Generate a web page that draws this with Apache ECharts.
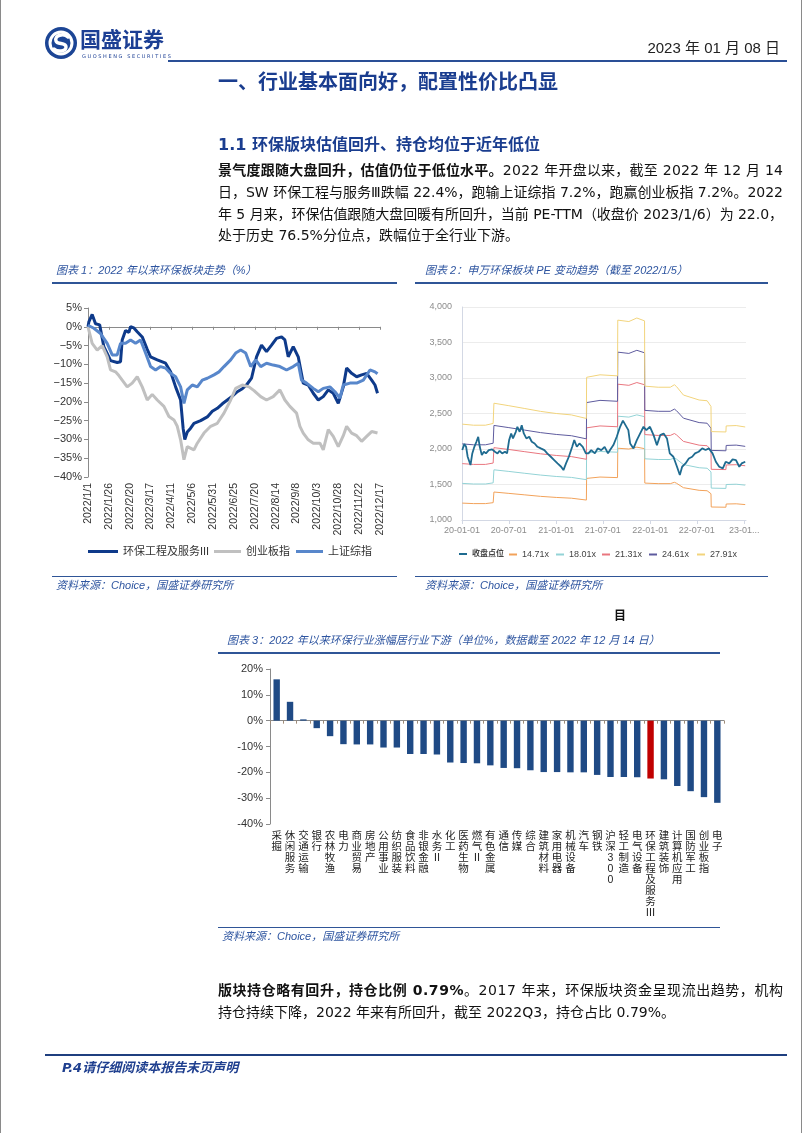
<!DOCTYPE html>
<html><head><meta charset="utf-8">
<script src="https://cdn.jsdelivr.net/npm/echarts@6/dist/echarts.min.js"></script>
<style>
html,body{margin:0;padding:0;background:#fff;}
body{width:802px;height:1133px;position:relative;overflow:hidden;font-family:"DejaVu Sans","Noto Sans CJK SC",sans-serif;color:#111;}
#chart{position:absolute;left:0;top:0;width:802px;height:1133px;}
.t{position:absolute;white-space:nowrap;}
.hl{position:absolute;}
.ct{font-family:"Liberation Sans","Noto Sans CJK SC",sans-serif;font-style:italic;font-size:11px;line-height:14px;color:#2e55a0;}
.p{font-size:14px;line-height:20px;color:#111;}
.b{font-weight:bold;}
</style></head>
<body>
<div id="chart"></div>
<div style="position:absolute;left:0;top:0;width:1px;height:1133px;background:#8a8a8a"></div>
<div style="position:absolute;left:801px;top:0;width:1px;height:1133px;background:#8a8a8a"></div>

<svg style="position:absolute;left:44px;top:26px" width="34" height="34" viewBox="0 0 34 34">
<circle cx="17" cy="17" r="16" fill="#1c4595"/>
<circle cx="17" cy="17" r="11" fill="none" stroke="#fff" stroke-width="3"/>
<path d="M24 11 C20 7 10 9 12 15 C13 19 22 16 22 21 C22 26 13 26 10 23" fill="none" stroke="#fff" stroke-width="3.4" stroke-linecap="round"/>
</svg>
<div class="t" style="left:80px;top:28px;font-size:21px;line-height:24px;font-weight:bold;color:#1c3f94;">国盛证券</div>
<div class="t" style="left:82px;top:53px;font-size:5px;line-height:6px;letter-spacing:1.6px;color:#1c3f94;">GUOSHENG SECURITIES</div>
<div class="t" style="right:22px;top:39px;font-size:15px;line-height:18px;color:#222;font-family:'Liberation Sans','Noto Sans CJK SC',sans-serif;">2023 年 01 月 08 日</div>
<div class="hl" style="left:168px;top:60px;width:619px;height:2px;background:#2a4f96"></div>

<div class="t" style="left:218px;top:70px;font-size:20px;line-height:24px;font-weight:bold;color:#1a3d8f;">一、行业基本面向好，配置性价比凸显</div>
<div class="t" style="left:218px;top:135px;font-size:16px;line-height:20px;font-weight:bold;color:#1a3d8f;">1.1 环保版块估值回升、持仓均位于近年低位</div>

<div class="t p jl" data-w="565" style="left:218px;top:160px;"><span class="b">景气度跟随大盘回升，估值仍位于低位水平。</span>2022 年开盘以来，截至 2022 年 12 月 14</div>
<div class="t p jl" data-w="565" style="left:218px;top:182px;">日，SW 环保工程与服务Ⅲ跌幅 22.4%，跑输上证综指 7.2%，跑赢创业板指 7.2%。2022</div>
<div class="t p jl" data-w="565" style="left:218px;top:204px;">年 5 月来，环保估值跟随大盘回暖有所回升，当前 PE-TTM（收盘价 2023/1/6）为 22.0，</div>
<div class="t p" style="left:218px;top:225px;">处于历史 76.5%分位点，跌幅位于全行业下游。</div>

<div class="t ct" style="left:56px;top:263px;">图表 1：2022 年以来环保板块走势（%）</div>
<div class="hl" style="left:52px;top:282px;width:345px;height:2px;background:#2f5597"></div>
<div class="t ct" style="left:425px;top:263px;">图表 2：申万环保板块 PE 变动趋势（截至 2022/1/5）</div>
<div class="hl" style="left:415px;top:282px;width:353px;height:2px;background:#2f5597"></div>

<div class="hl" style="left:52px;top:576px;width:345px;height:1px;background:#2f5597"></div>
<div class="t ct" style="left:56px;top:578px;">资料来源：Choice，国盛证券研究所</div>
<div class="hl" style="left:415px;top:576px;width:353px;height:1px;background:#2f5597"></div>
<div class="t ct" style="left:425px;top:578px;">资料来源：Choice，国盛证券研究所</div>

<div class="t" style="left:614px;top:609px;font-size:12px;line-height:15px;font-weight:bold;color:#111;">目</div>

<div class="t ct" style="left:227px;top:633px;">图表 3：2022 年以来环保行业涨幅居行业下游（单位%，数据截至 2022 年 12 月 14 日）</div>
<div class="hl" style="left:218px;top:652px;width:502px;height:2px;background:#2f5597"></div>
<div class="hl" style="left:218px;top:927px;width:502px;height:1px;background:#2f5597"></div>
<div class="t ct" style="left:222px;top:929px;">资料来源：Choice，国盛证券研究所</div>

<div class="t p jl" data-w="565" style="left:218px;top:980px;"><span class="b">版块持仓略有回升，持仓比例 0.79%</span>。2017 年来，环保版块资金呈现流出趋势，机构</div>
<div class="t p" style="left:218px;top:1002px;">持仓持续下降，2022 年来有所回升，截至 2022Q3，持仓占比 0.79%。</div>

<div class="hl" style="left:45px;top:1054px;width:742px;height:2px;background:#1f3f7f"></div>
<div class="t" style="left:62px;top:1060px;font-size:13px;line-height:16px;font-weight:bold;font-style:italic;color:#1f3f8f;">P.4请仔细阅读本报告末页声明</div>

<script>
// ---------- Chart 1 data: 2022 cumulative change (%) by day of year ----------
const c1TickLabels = ['2022/1/1','2022/1/26','2022/2/20','2022/3/17','2022/4/11','2022/5/6','2022/5/31','2022/6/25','2022/7/20','2022/8/14','2022/9/8','2022/10/3','2022/10/28','2022/11/22','2022/12/17'];
const c1Names = ['环保工程及服务III','创业板指','上证综指'];
const envSeries = [[0,0],[1,1.3],[5,3.3],[9,0.8],[14,0.5],[19,-5.3],[25,-8],[27,-9],[35,-9.5],[39,-9.3],[41,-3.5],[45,-1],[49,-1.5],[51,0],[55,-0.3],[59,-1.3],[65,-2.7],[71,-6],[75,-8],[83,-8.8],[93,-9.7],[99,-12],[105,-16],[111,-19.5],[114,-27],[116,-30],[119,-28],[123,-27],[127,-25.7],[135,-25],[143,-24],[149,-22.5],[155,-21.7],[161,-20.5],[167,-19.5],[173,-18.5],[179,-17.3],[185,-16.5],[190,-15.5],[196,-13.7],[202,-8],[208,-4.9],[214,-6.6],[220,-4.9],[226,-3.1],[232,-2.7],[236,-3.5],[240,-8],[246,-5.3],[252,-8],[258,-15],[264,-15.5],[270,-17.7],[276,-19.5],[282,-18.6],[288,-16.8],[294,-17.7],[300,-20.4],[306,-16],[310,-11],[316,-12.4],[322,-13.3],[328,-12.8],[334,-12.4],[340,-14.2],[344,-15.5],[347,-17.7]];
const gemSeries = [[0,0],[5,-4.4],[11,-6.2],[17,-5],[23,-8],[27,-11.5],[33,-12],[37,-13],[41,-14.2],[47,-16],[53,-15],[59,-13.3],[65,-16],[71,-19.5],[77,-18],[83,-19.5],[91,-21.2],[97,-23.9],[103,-24.8],[107,-26.5],[111,-30.1],[115,-35.4],[119,-31.9],[127,-32.8],[131,-31],[139,-28.3],[147,-26.5],[155,-25.7],[163,-23],[171,-19.5],[177,-16.4],[185,-15.5],[193,-16],[199,-17],[207,-18.6],[214,-19.5],[222,-18.6],[230,-16.8],[236,-19.5],[242,-21.2],[250,-23],[254,-26.5],[258,-28.3],[264,-30.1],[270,-31],[278,-31],[282,-32.8],[288,-27.4],[294,-29.2],[300,-31.9],[306,-29],[310,-26.5],[316,-28.3],[322,-29],[328,-30.5],[334,-29.2],[340,-27.9],[347,-28.3]];
const shSeries = [[0,0.4],[7,-0.4],[15,-1.8],[23,-4.4],[29,-7.5],[35,-7.5],[39,-4.4],[45,-4.4],[51,-3.5],[57,-4.4],[63,-3.5],[69,-7],[75,-10.6],[81,-11.5],[87,-10.6],[93,-11],[99,-12.4],[105,-13.3],[111,-16],[115,-20.4],[119,-16.8],[125,-15.5],[131,-16],[137,-14.2],[143,-13.7],[151,-12.8],[157,-12],[163,-10.6],[171,-8.8],[177,-7],[183,-6.2],[189,-7],[195,-10.6],[201,-8.8],[207,-10.6],[214,-9.7],[222,-10.2],[230,-10.6],[238,-11.5],[246,-10.6],[252,-9.7],[256,-14.2],[262,-15],[270,-16.4],[276,-17.3],[282,-16.4],[290,-16],[296,-17.3],[302,-19],[306,-15.5],[314,-15],[322,-15],[330,-14.2],[338,-11.5],[344,-12],[347,-12.5]];

// ---------- Chart 2 data: index level and PE bands ----------
const c2TickDates = ['2020-01-01','2020-07-01','2021-01-01','2021-07-01','2022-01-01','2022-07-01','2023-01-01'];
const c2TickLabels = ['20-01-01','20-07-01','21-01-01','21-07-01','22-01-01','22-07-01','23-01...'];
const c2Names = ['收盘点位','14.71x','18.01x','21.31x','24.61x','27.91x'];
const closeSeries = [['2020-01-02',1985],['2020-01-10',2069],['2020-01-17',2031],['2020-01-23',1891],['2020-02-03',1774],['2020-02-10',1938],['2020-02-18',2031],['2020-02-26',2102],['2020-03-04',2172],['2020-03-10',2031],['2020-03-18',1914],['2020-03-26',1961],['2020-04-03',1938],['2020-04-14',1985],['2020-04-27',1994],['2020-05-08',1961],['2020-05-18',1938],['2020-05-26',1975],['2020-06-05',1938],['2020-06-16',1961],['2020-06-24',1938],['2020-07-02',2125],['2020-07-10',2219],['2020-07-17',2149],['2020-07-28',2242],['2020-08-03',2313],['2020-08-12',2242],['2020-08-20',2336],['2020-08-28',2219],['2020-09-07',2149],['2020-09-18',2172],['2020-09-28',2102],['2020-10-09',2078],['2020-10-20',2031],['2020-11-02',2008],['2020-11-16',1985],['2020-11-27',1938],['2020-12-11',1891],['2020-12-24',1844],['2021-01-06',1797],['2021-01-20',1750],['2021-01-29',1703],['2021-02-08',1797],['2021-02-19',1891],['2021-03-04',2031],['2021-03-12',2125],['2021-03-22',2031],['2021-04-01',2078],['2021-04-14',2031],['2021-04-26',1938],['2021-05-06',1938],['2021-05-17',1985],['2021-05-31',1938],['2021-06-11',2008],['2021-06-25',1985],['2021-07-08',2031],['2021-07-21',1938],['2021-07-29',1985],['2021-08-11',2055],['2021-08-24',2172],['2021-09-06',2313],['2021-09-17',2400],['2021-10-08',2266],['2021-10-15',2078],['2021-10-28',2008],['2021-11-10',2125],['2021-11-23',2219],['2021-12-06',2313],['2021-12-17',2266],['2021-12-31',2313],['2022-01-14',2195],['2022-01-27',2055],['2022-02-09',2195],['2022-02-22',2219],['2022-03-07',2149],['2022-03-18',1938],['2022-04-01',1891],['2022-04-15',1750],['2022-04-26',1633],['2022-05-05',1750],['2022-05-18',1797],['2022-05-31',1867],['2022-06-13',1891],['2022-06-24',1938],['2022-07-08',1961],['2022-07-22',2008],['2022-08-04',1985],['2022-08-17',2008],['2022-08-31',1938],['2022-09-13',1820],['2022-09-26',1750],['2022-10-10',1727],['2022-10-21',1820],['2022-11-04',1797],['2022-11-17',1853],['2022-11-30',1844],['2022-12-13',1750],['2022-12-22',1797],['2023-01-05',1820]];
const bandDates = ['2020-01-02','2020-02-15','2020-04-01','2020-05-01','2020-05-04','2020-07-01','2020-09-01','2020-11-01','2021-01-01','2021-03-01','2021-04-28','2021-04-29','2021-06-20','2021-08-27','2021-08-28','2021-10-10','2021-11-10','2021-12-10','2021-12-11','2022-02-01','2022-03-20','2022-04-05','2022-04-13','2022-05-10','2022-07-10','2022-08-10','2022-08-25','2022-08-26','2022-10-22','2022-10-23','2022-12-01','2023-01-05'];
const pe1471 = [1238,1231,1231,1244,1394,1375,1354,1333,1318,1307,1281,1586,1605,1597,2011,2000,2026,2005,1520,1512,1512,1531,1518,1455,1418,1412,1370,1183,1180,1225,1228,1217];
const pe1801 = [1516,1507,1507,1523,1707,1684,1658,1633,1613,1600,1568,1942,1965,1955,2462,2449,2481,2455,1862,1852,1852,1875,1858,1781,1736,1729,1678,1449,1445,1500,1504,1491];
const pe2131 = [1794,1783,1783,1802,2019,1993,1962,1932,1909,1893,1855,2298,2325,2313,2913,2897,2936,2905,2203,2191,2191,2218,2199,2107,2054,2046,1985,1714,1710,1775,1779,1764];
const pe2461 = [2072,2059,2059,2081,2332,2301,2266,2231,2205,2187,2143,2654,2685,2672,3364,3346,3390,3355,2544,2531,2531,2562,2540,2434,2372,2363,2293,1980,1975,2050,2055,2037];
const pe2791 = [2350,2335,2335,2360,2645,2610,2570,2530,2500,2480,2430,3010,3045,3030,3815,3795,3845,3805,2885,2870,2870,2905,2880,2760,2690,2680,2600,2245,2240,2325,2330,2310];

// ---------- Chart 3 data: 2022 YTD change by industry (%) ----------
const industries = ['采掘','休闲服务','交通运输','银行','农林牧渔','电力','商业贸易','房地产','公用事业','纺织服装','食品饮料','非银金融','水务Ⅱ','化工','医药生物','燃气Ⅱ','有色金属','通信','传媒','综合','建筑材料','家用电器','机械设备','汽车','钢铁','沪深300','轻工制造','电气设备','环保工程及服务Ⅲ','建筑装饰','计算机应用','国防军工','创业板指','电子'];
const changes = [16.0,7.3,0.5,-2.9,-6.0,-9.1,-9.2,-9.2,-10.4,-10.4,-12.9,-12.9,-13.1,-16.2,-16.4,-16.5,-17.3,-18.3,-18.4,-19.2,-19.9,-19.9,-20.0,-20.0,-21.0,-21.8,-21.8,-21.9,-22.4,-22.7,-25.3,-27.3,-29.6,-31.8];
const highlight = '环保工程及服务Ⅲ';

// justify text lines
document.querySelectorAll('.jl').forEach(el => {
  el.style.letterSpacing = '0px';
  const w = el.getBoundingClientRect().width;
  const n = el.textContent.length;
  el.style.letterSpacing = ((+el.dataset.w - w) / (n - 1)) + 'px';
});

function ts(s){ const p = s.split('-').map(Number); return new Date(p[0], p[1]-1, p[2]).getTime(); }
const c2Ticks = c2TickDates.map(ts);

const chart = echarts.init(document.getElementById('chart'));
const c1Colors = ['#0e3a8a','#c0c0c0','#5887cb'];
const c2Colors = ['#1f6b90','#f2a25a','#93d3d6','#e9767f','#5e5b9e','#f2d47c'];
const cjk = '"Liberation Sans","Noto Sans CJK SC",sans-serif';

const c1Data = [envSeries, gemSeries, shSeries];
const c2Data = [
  closeSeries.map(d => [ts(d[0]), d[1]]),
  ...[pe1471, pe1801, pe2131, pe2461, pe2791].map(arr => arr.map((v,i) => [ts(bandDates[i]), v]))
];

const series = [];
c1Names.forEach((n,i) => series.push({
  name:n, type:'line', xAxisIndex:0, yAxisIndex:0, data:c1Data[i], symbol:'none',
  color:c1Colors[i], lineStyle:{width:3, color:c1Colors[i]}
}));
[1,2,3,4,5,0].forEach(i => series.push({
  name:c2Names[i], type:'line', xAxisIndex:1, yAxisIndex:1, data:c2Data[i], symbol:'none',
  color:c2Colors[i], lineStyle:{width: i===0 ? 1.8 : 1, color:c2Colors[i]}, z: i===0 ? 5 : 2
}));
series.push({
  type:'bar', xAxisIndex:2, yAxisIndex:2, barWidth:'48%',
  data: changes.map((v,i) => industries[i] === highlight ? {value:v, itemStyle:{color:'#c00000'}} : v),
  itemStyle:{color:'#1f4a85'}
});

const c1LegendLeft = [83, 209, 291];
const c2LegendLeft = [454, 504, 551, 597, 644, 692];
const legends = [];
c1Names.forEach((n,i) => legends.push({
  left:c1LegendLeft[i], top:541, data:[n], icon:'rect', itemWidth: i===0 ? 30 : 27, itemHeight:3, itemGap:0,
  textStyle:{fontSize:11, color:'#333', fontFamily:cjk}
}));
c2Names.forEach((n,i) => legends.push({
  left:c2LegendLeft[i], top:545, data:[n], icon:'rect', itemWidth:8, itemHeight:2, itemGap:0,
  textStyle:{fontSize: i===0 ? 8 : 9, color:'#444', fontFamily:cjk, fontWeight: i===0 ? 'bold' : 'normal'}
}));

const option = {
  animation:false,
  legend: legends,
  grid:[
    {left:88, top:308, width:292, height:169},
    {left:462, top:307, width:284, height:213},
    {left:270, top:669, width:454, height:155}
  ],
  xAxis:[
    {type:'value', gridIndex:0, min:0, max:350, interval:25,
     axisLine:{onZero:true, lineStyle:{color:'#8a8a8a'}}, axisTick:{show:true, length:3, lineStyle:{color:'#8a8a8a'}},
     splitLine:{show:false},
     axisLabel:{rotate:90, margin:6, fontSize:10.5, color:'#333', fontFamily:cjk,
       formatter: v => c1TickLabels[Math.round(v/25)] || ''}},
    {type:'value', gridIndex:1, min:ts('2020-01-01'), max:ts('2023-01-08'),
     axisLine:{lineStyle:{color:'#d3d8e4'}},
     axisTick:{show:true, length:4, customValues:c2Ticks, lineStyle:{color:'#d3d8e4'}},
     splitLine:{show:false},
     axisLabel:{customValues:c2Ticks, fontSize:9, color:'#8c8c8c', margin:6, fontFamily:cjk, showMinLabel:true, showMaxLabel:true,
       formatter: v => { let k = -1; c2Ticks.forEach((t,j) => { if (Math.abs(t - v) < 86400000) k = j; }); return k >= 0 ? c2TickLabels[k] : ''; }}},
    {type:'category', gridIndex:2, data:industries,
     axisLine:{onZero:true, lineStyle:{color:'#8a8a8a'}},
     axisTick:{show:true, length:3, lineStyle:{color:'#a08c78'}},
     axisLabel:{interval:0, margin:7, fontSize:10.5, lineHeight:11, color:'#222', fontFamily:cjk,
       formatter: n => n.split('').join('\n')}}
  ],
  yAxis:[
    {type:'value', gridIndex:0, min:-40, max:5, interval:5,
     axisLine:{show:true, lineStyle:{color:'#8a8a8a'}}, axisTick:{show:true, length:4, lineStyle:{color:'#8a8a8a'}},
     splitLine:{show:false},
     axisLabel:{fontSize:11, color:'#333', margin:6, fontFamily:cjk, formatter: v => (v < 0 ? '−' + (-v) : v) + '%'}},
    {type:'value', gridIndex:1, min:1000, max:4000, interval:500,
     axisLine:{show:true, lineStyle:{color:'#d3d8e4'}}, axisTick:{show:false},
     splitLine:{lineStyle:{color:'#ececec'}},
     axisLabel:{fontSize:9, color:'#8c8c8c', margin:10, fontFamily:cjk, formatter: v => v.toLocaleString('en-US')}},
    {type:'value', gridIndex:2, min:-40, max:20, interval:10,
     axisLine:{show:true, lineStyle:{color:'#8a8a8a'}}, axisTick:{show:true, length:4, lineStyle:{color:'#8a8a8a'}},
     splitLine:{show:false},
     axisLabel:{fontSize:11, color:'#333', margin:7, fontFamily:cjk, formatter: v => v + '%'}}
  ],
  series: series
};
chart.setOption(option);
</script>
</body></html>
